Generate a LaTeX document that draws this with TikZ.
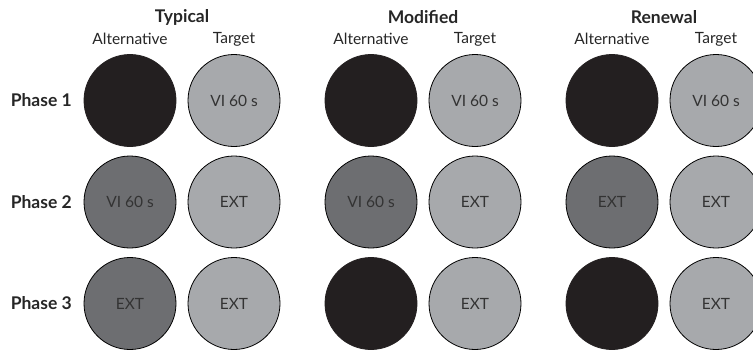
\documentclass[tikz,border=0pt]{standalone}
\usepackage{fontspec}
\setmainfont{Lato}
\begin{document}
\begin{tikzpicture}[
  x=1pt, y=-1pt,
  font=\fontsize{15.5}{18}\selectfont,
  disc/.style={circle, draw=black, line width=0.8pt, minimum size=92pt, inner sep=0pt, text=black!80},
  head/.style={font=\fontsize{17.5}{20}\selectfont\bfseries, text=black!85},
  sub/.style={text=black!85},
  phase/.style={font=\fontsize{17.5}{20}\selectfont\bfseries, text=black!85, anchor=east, inner sep=0pt},
]
\definecolor{Blk}{HTML}{231F20}
\definecolor{Mid}{HTML}{6D6E71}
\definecolor{Lgt}{HTML}{A7A9AC}

\useasboundingbox (0,0) rectangle (753,349);

% ---- row labels ----
\node[phase] (ph1) at (72,100.5) {Phase 1};
\node[phase] (ph2) at (72,202) {Phase 2};
\node[phase] (ph3) at (72,303.5) {Phase 3};

% ---- left: typical ----
\begin{scope}[shift={(0,0)}]
  \node[head] (typ) at (182,17) {Typical};
  \node[sub] (typA) at (130,39) {Alternative};
  \node[sub] (typT) at (234,39) {Target};
  \node[disc, fill=Blk, draw=Blk] (typA1) at (130,100.5) {};
  \node[disc, fill=Lgt] (typT1) at (234,100.5) {VI 60 s};
  \node[disc, fill=Mid] (typA2) at (130,202) {VI 60 s};
  \node[disc, fill=Lgt] (typT2) at (234,202) {EXT};
  \node[disc, fill=Mid] (typA3) at (130,303.5) {EXT};
  \node[disc, fill=Lgt] (typT3) at (234,303.5) {EXT};
\end{scope}

% ---- middle: modified ----
\begin{scope}[shift={(241,0)}]
  \node[head] (mod) at (182,17) {Modified};
  \node[sub] (modA) at (130,39) {Alternative};
  \node[sub] (modT) at (234,39) {Target};
  \node[disc, fill=Blk, draw=Blk] (modA1) at (130,100.5) {};
  \node[disc, fill=Lgt] (modT1) at (234,100.5) {VI 60 s};
  \node[disc, fill=Mid] (modA2) at (130,202) {VI 60 s};
  \node[disc, fill=Lgt] (modT2) at (234,202) {EXT};
  \node[disc, fill=Blk, draw=Blk] (modA3) at (130,303.5) {};
  \node[disc, fill=Lgt] (modT3) at (234,303.5) {EXT};
\end{scope}

% ---- right: renewal ----
\begin{scope}[shift={(482,0)}]
  \node[head] (ren) at (182,17) {Renewal};
  \node[sub] (renA) at (130,39) {Alternative};
  \node[sub] (renT) at (234,39) {Target};
  \node[disc, fill=Blk, draw=Blk] (renA1) at (130,100.5) {};
  \node[disc, fill=Lgt] (renT1) at (234,100.5) {VI 60 s};
  \node[disc, fill=Mid] (renA2) at (130,202) {EXT};
  \node[disc, fill=Lgt] (renT2) at (234,202) {EXT};
  \node[disc, fill=Blk, draw=Blk] (renA3) at (130,303.5) {};
  \node[disc, fill=Lgt] (renT3) at (234,303.5) {EXT};
\end{scope}
\end{tikzpicture}
\end{document}
